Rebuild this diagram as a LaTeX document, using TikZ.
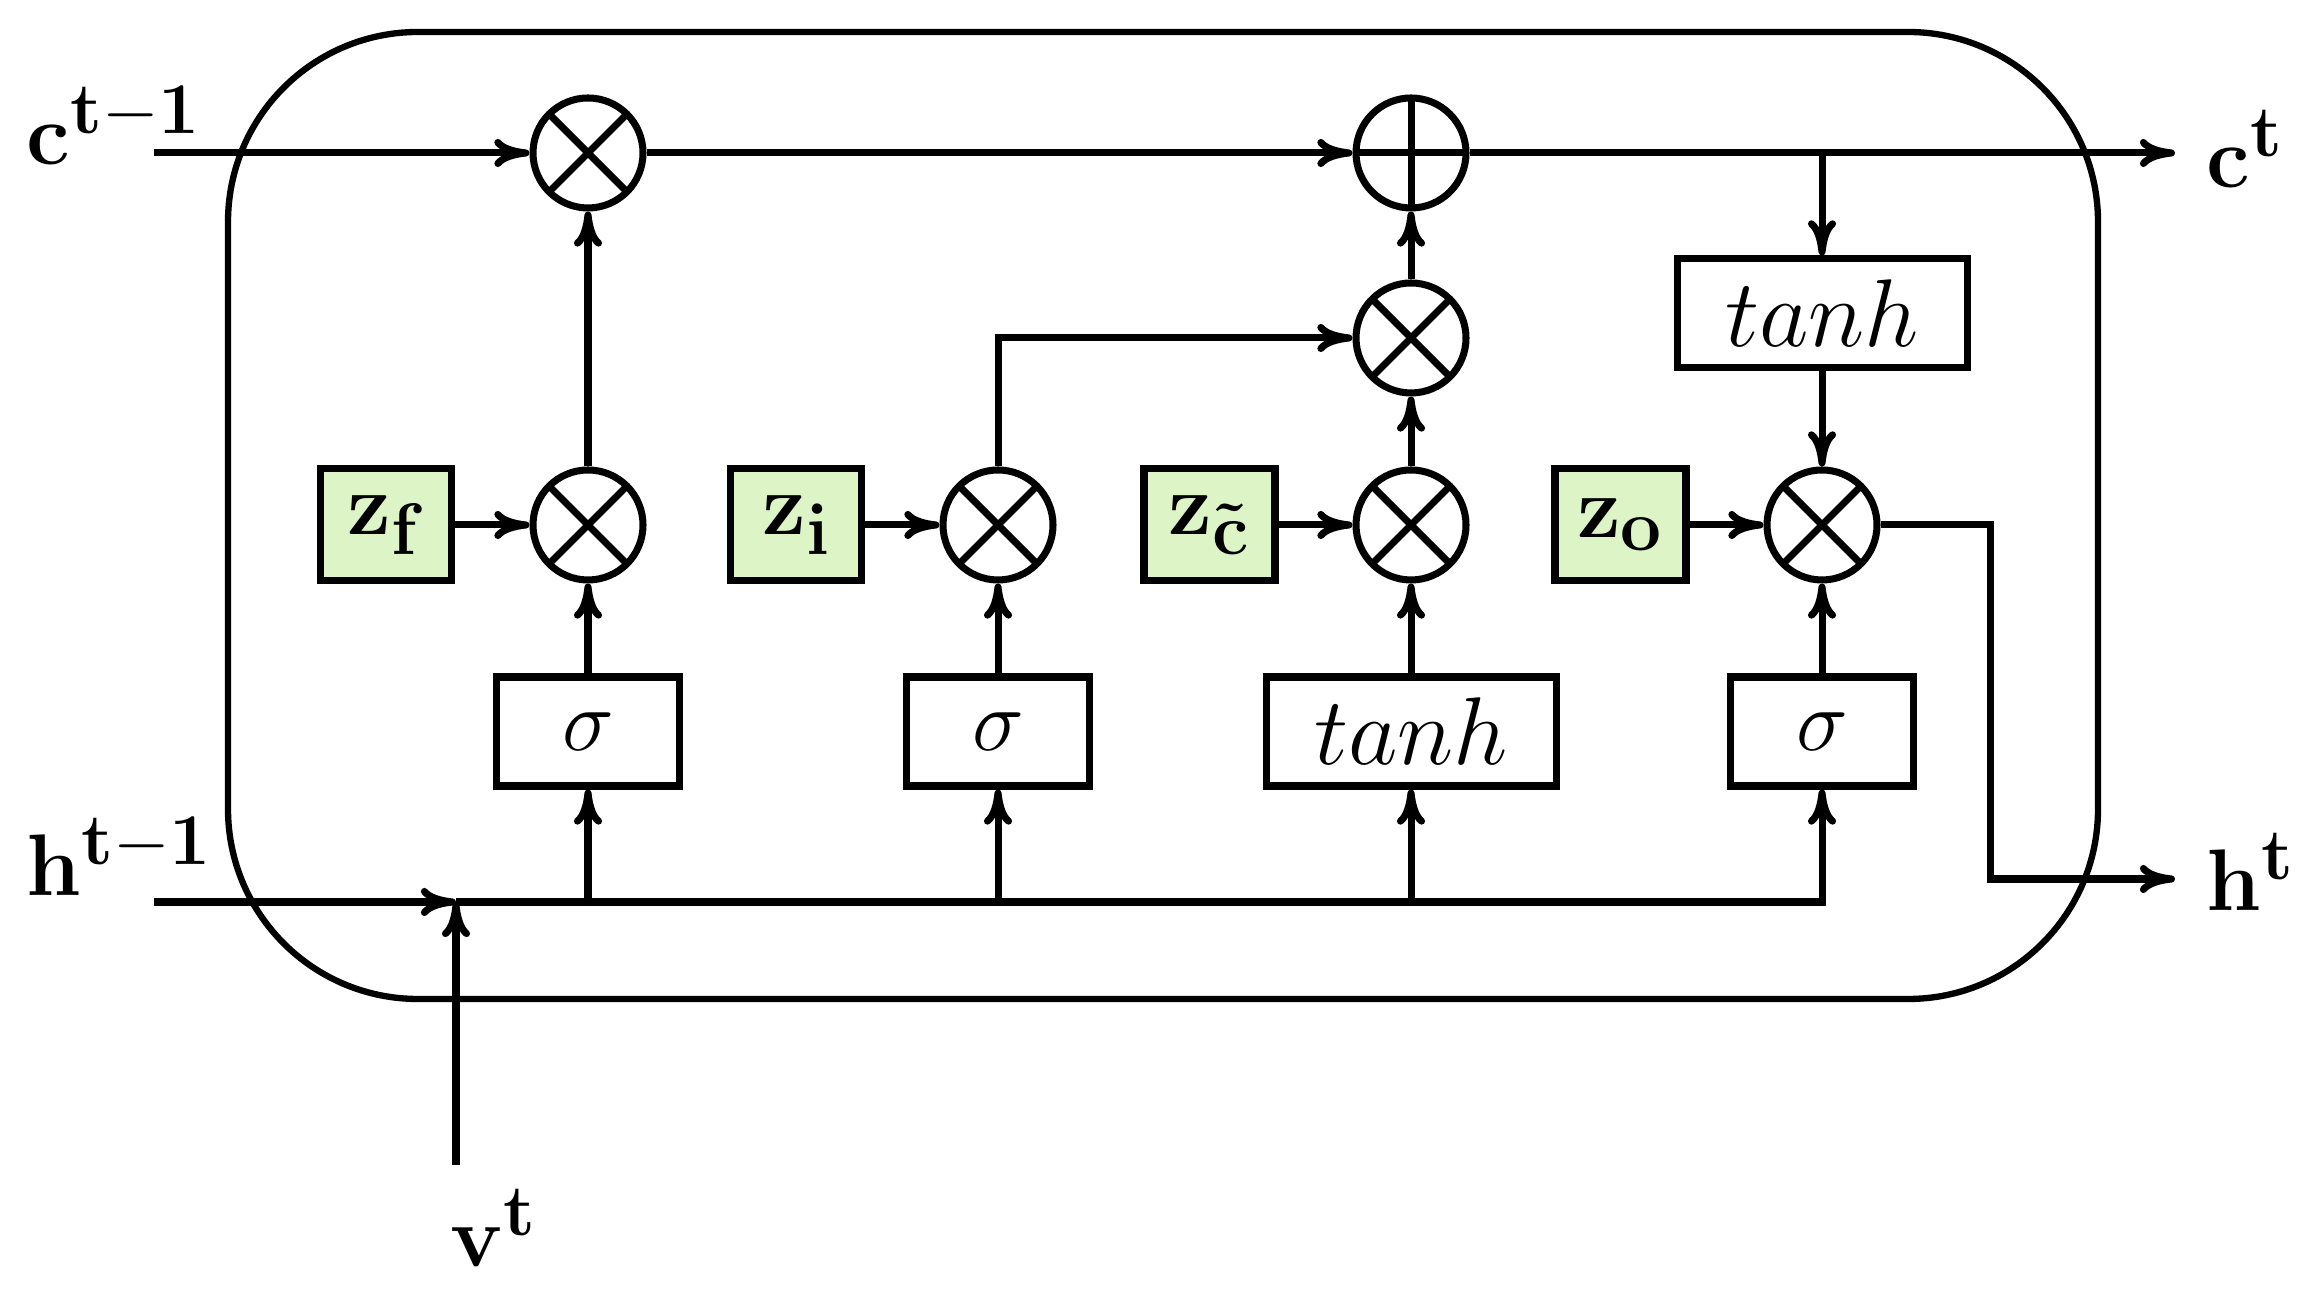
\documentclass[tikz,border=0pt]{standalone}
\usetikzlibrary{positioning,arrows.meta}
\definecolor{zgreen}{RGB}{220,244,198}
\begin{document}
\begin{tikzpicture}[x=1cm,y=1cm,line width=2pt,font=\fontsize{24.88}{30}\selectfont,every node/.style={inner sep=8pt}]
\tikzstyle{arrow}=[draw,-{Computer Modern Rightarrow[length=10pt,width=8pt]}]
\tikzstyle{mult}=[circle,draw,inner sep=0pt,minimum size=1.1cm,path picture={
  \draw (path picture bounding box.north west)--(path picture bounding box.south east)
        (path picture bounding box.north east)--(path picture bounding box.south west);}]
\tikzstyle{plus}=[circle,draw,inner sep=0pt,minimum size=1.1cm,path picture={
  \draw (path picture bounding box.north)--(path picture bounding box.south)
        (path picture bounding box.west)--(path picture bounding box.east);}]
\tikzstyle{gate}=[draw,inner sep=0pt,minimum width=1.83cm,minimum height=1.09cm]
\tikzstyle{zbox}=[gate,fill=zgreen,minimum width=1.31cm,minimum height=1.12cm]
\useasboundingbox (0,0) rectangle (23.04,12.94);

% cell border
\draw[line width=1.8pt,rounded corners=1.9cm] (2.28,2.95) rectangle (20.98,12.62);

% products and sum
\node[mult](n01) at (5.88,11.41){};
\node[plus](n03) at (14.11,11.41){};
\node[mult](n13) at (14.11,9.56){};
\node[mult](n21) at (5.88,7.69){};
\node[mult](n22) at (9.98,7.69){};
\node[mult](n23) at (14.11,7.69){};
\node[mult](n24) at (18.22,7.69){};

% gates
\node[gate,below=0.9cm of n21](n31){$\sigma$};
\node[gate,below=0.9cm of n22](n32){$\sigma$};
\node[gate,below=0.9cm of n23,minimum width=2.9cm](n33){\scalebox{1.1}{$tanh$}};
\node[gate,below=0.9cm of n24](n34){$\sigma$};
\node[gate,above=0.95cm of n24,minimum width=2.9cm](n14){\scalebox{1.1}{$tanh$}};

\node[zbox,left=0.74cm of n21](z21){$\mathbf{z_f}$};
\node[zbox,left=0.74cm of n22](z22){$\mathbf{z_i}$};
\node[zbox,left=0.74cm of n23](z23){$\mathbf{z_{\tilde{c}}}$};
\node[zbox,left=0.74cm of n24](z24){$\mathbf{z_o}$};

% inputs and outputs
\node[anchor=base west](ctm) at (-0.05,11.29){$\mathbf{c^{t-1}}$};
\node[anchor=base west](htm) at (-0.05,3.98){$\mathbf{h^{t-1}}$};
\node[anchor=base west](vt) at (4.19,0.27){$\mathbf{v^t}$};
\node[anchor=base west](ct) at (21.75,11.06){$\mathbf{c^t}$};
\node[anchor=base west](ht) at (21.75,3.83){$\mathbf{h^t}$};
\coordinate (c0) at (1.54,11.41);
\coordinate (h0) at (1.54,3.92);
\coordinate (v0) at (4.56,1.29);
\coordinate (j) at (4.56,3.92);
\coordinate (k) at (19.90,4.15);

% cell state
\path[arrow](c0)--(n01);
\path[arrow](n01)--(n03);
\path[arrow](n03)--(ct.west|-n03);
\path[arrow](n14.north|-n03)--(n14.north);
\path[arrow](n21)--(n01);
\path[arrow](n23)--(n13);
\path[arrow](n13)--(n03);
\path[arrow](n22.north)|-(n13.west);

% hidden state
\path[arrow](h0)--(j);
\path[arrow](v0)--(j);
\path[arrow](j)-|(n34.south);
\foreach \c in {1,2,3}{\path[arrow](j-|n3\c)--(n3\c.south);}
\foreach \c in {1,...,4}{
  \path[arrow](n3\c)--(n2\c);
  \path[arrow](z2\c)--(n2\c);}
\path[arrow](n14)--(n24);
\path[arrow](n24.east)-|(k)--(ht.west|-k);
\end{tikzpicture}
\end{document}
